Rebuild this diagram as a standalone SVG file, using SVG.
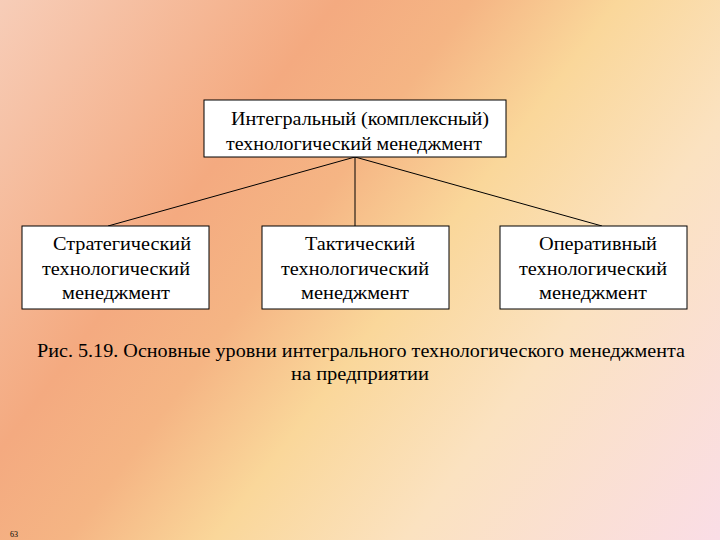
<svg xmlns="http://www.w3.org/2000/svg" width="720" height="540" viewBox="0 0 720 540">
<defs>
<linearGradient id="bg" x1="0" y1="0" x2="720" y2="540" gradientUnits="userSpaceOnUse">
<stop offset="0" stop-color="#f7cdb8"/>
<stop offset="0.3" stop-color="#f4aa80"/>
<stop offset="0.42" stop-color="#f5b584"/>
<stop offset="0.55" stop-color="#fad79a"/>
<stop offset="0.72" stop-color="#fbe2c0"/>
<stop offset="1" stop-color="#fadde6"/>
</linearGradient>
<style>
.box{fill:#fff;stroke:#000;stroke-width:1}
.t{font-family:"Liberation Serif","Times New Roman","DejaVu Serif",serif;font-size:18px;fill:#000;text-anchor:middle}
.c{stroke:#000;stroke-width:1;fill:none}
</style>
</defs>
<rect width="720" height="540" fill="url(#bg)"/>
<g id="connectors">
<line class="c" x1="355" y1="157" x2="108" y2="226"/>
<line class="c" x1="355" y1="157" x2="355" y2="226"/>
<line class="c" x1="355" y1="157" x2="602" y2="226"/>
</g>
<g id="top"><rect class="box" x="204" y="100" width="302" height="57"/>
<text class="t" x="360" y="125" textLength="258" lengthAdjust="spacingAndGlyphs">Интегральный (комплексный)</text>
<text class="t" x="354" y="150" textLength="256" lengthAdjust="spacingAndGlyphs">технологический менеджмент</text></g>
<g id="strat"><rect class="box" x="22" y="226" width="187" height="83"/>
<text class="t" x="122" y="250" textLength="138" lengthAdjust="spacingAndGlyphs">Стратегический</text>
<text class="t" x="116" y="275" textLength="148" lengthAdjust="spacingAndGlyphs">технологический</text>
<text class="t" x="116" y="299" textLength="108" lengthAdjust="spacingAndGlyphs">менеджмент</text></g>
<g id="takt"><rect class="box" x="262" y="226" width="187" height="83"/>
<text class="t" x="360" y="250" textLength="110" lengthAdjust="spacingAndGlyphs">Тактический</text>
<text class="t" x="355" y="275" textLength="148" lengthAdjust="spacingAndGlyphs">технологический</text>
<text class="t" x="355" y="299" textLength="108" lengthAdjust="spacingAndGlyphs">менеджмент</text></g>
<g id="oper"><rect class="box" x="500" y="226" width="187" height="83"/>
<text class="t" x="598" y="250" textLength="118" lengthAdjust="spacingAndGlyphs">Оперативный</text>
<text class="t" x="593" y="275" textLength="148" lengthAdjust="spacingAndGlyphs">технологический</text>
<text class="t" x="593" y="299" textLength="108" lengthAdjust="spacingAndGlyphs">менеджмент</text></g>
<text class="t" x="361" y="357" textLength="648" lengthAdjust="spacingAndGlyphs">Рис. 5.19. Основные уровни интегрального технологического менеджмента</text>
<text class="t" x="360" y="380" textLength="138" lengthAdjust="spacingAndGlyphs">на предприятии</text>
<text x="10" y="537" font-family="Liberation Serif, serif" font-size="8">63</text>
</svg>
